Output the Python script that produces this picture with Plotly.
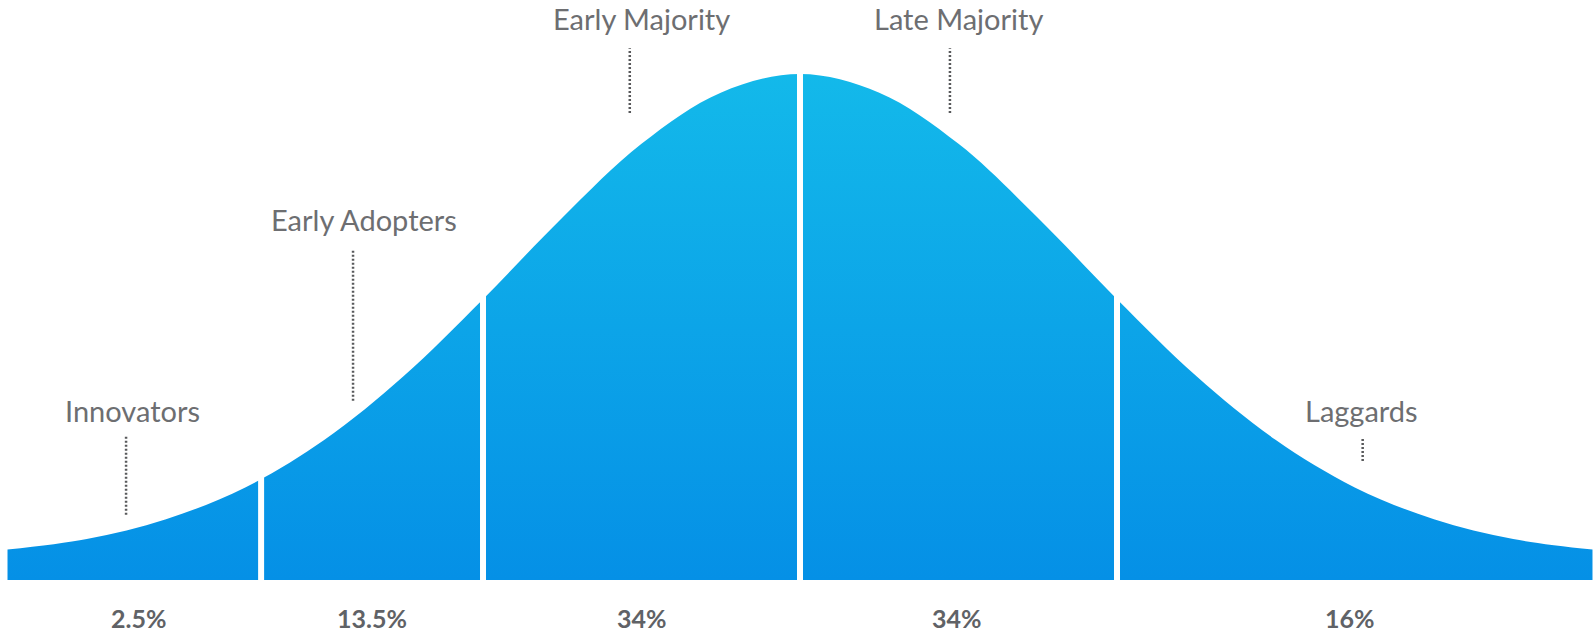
import plotly.graph_objects as go

# ---------------- data ----------------
# adopter categories and their share of the population
categories = ["Innovators", "Early Adopters", "Early Majority", "Late Majority", "Laggards"]
shares = [2.5, 13.5, 34, 34, 16]
share_labels = ["2.5%", "13.5%", "34%", "34%", "16%"]

# bell curve outline
# (x in standard-deviation units, height relative to the peak)
curve_x = [-2.5, -2.25, -2.0, -1.75, -1.5, -1.25, -1.0, -0.75, -0.5, -0.25, 0.0,
           0.25, 0.5, 0.75, 1.0, 1.25, 1.5, 1.75, 2.0, 2.25, 2.5]
curve_y = [0.060, 0.081, 0.120, 0.183, 0.277, 0.403, 0.555, 0.716, 0.862, 0.963, 1.0,
           0.963, 0.862, 0.716, 0.555, 0.403, 0.277, 0.183, 0.120, 0.081, 0.060]

# boundaries between the categories (x units)
boundaries = [-1.7, -1.0, 0.0, 1.0]

# ---------------- layout constants ----------------
label_x = [-2.105, -1.375, -0.50, 0.50, 1.77]
label_y = [0.335, 0.712, 1.109, 1.109, 0.335]
pointer_x = [-2.126, -1.41, -0.537, 0.473, 1.775]
pointer_top = [0.283, 0.652, 1.051, 1.051, 0.281]
pointer_bottom = [0.129, 0.354, 0.923, 0.923, 0.235]
pct_x = [-2.088, -1.351, -0.497, 0.495, 1.735]
pct_y = -0.075

label_color = "#6d6e71"
pct_color = "#606266"
font_family = "Lato, 'Open Sans', sans-serif"

fig = go.Figure()

fig.add_trace(go.Scatter(
    x=curve_x, y=curve_y,
    mode="lines",
    line=dict(width=0, shape="spline", color="rgba(0,0,0,0)"),
    fill="tozeroy",
    fillgradient=dict(type="vertical",
                      colorscale=[[0, "#0590e6"], [1, "#13b9ea"]],
                      start=0, stop=1),
    hoverinfo="skip",
    showlegend=False,
))

# white separators between the segments
for b in boundaries:
    fig.add_shape(type="line", xref="x", yref="y",
                  x0=b, x1=b, y0=-0.01, y1=1.12,
                  line=dict(color="white", width=6))

# dotted pointers and category labels
for name, lx, ly, px, pt, pb in zip(categories, label_x, label_y,
                                     pointer_x, pointer_top, pointer_bottom):
    fig.add_shape(type="line", xref="x", yref="y",
                  x0=px, x1=px, y0=pb, y1=pt,
                  line=dict(color="#58595b", width=2.5, dash="2px,2px"))
    fig.add_annotation(x=lx, y=ly, xref="x", yref="y", text=name,
                       showarrow=False, xanchor="center", yanchor="middle",
                       font=dict(family=font_family, size=29, color=label_color))

# percentage labels
for txt, x in zip(share_labels, pct_x):
    fig.add_annotation(x=x, y=pct_y, xref="x", yref="y", text="<b>" + txt + "</b>",
                       showarrow=False, xanchor="center", yanchor="middle",
                       borderpad=0,
                       font=dict(family=font_family, size=25, color=pct_color))

fig.update_layout(
    width=1593, height=636,
    margin=dict(l=0, r=0, t=0, b=0),
    paper_bgcolor="white", plot_bgcolor="white",
    xaxis=dict(range=[-2.5237, 2.5016], visible=False, fixedrange=True),
    yaxis=dict(range=[-0.1107, 1.1462], visible=False, fixedrange=True),
    showlegend=False,
)

fig.write_html("out.html",
               config={"displayModeBar": False},
               post_script="document.body.style.margin='0';document.body.style.overflow='hidden';")
